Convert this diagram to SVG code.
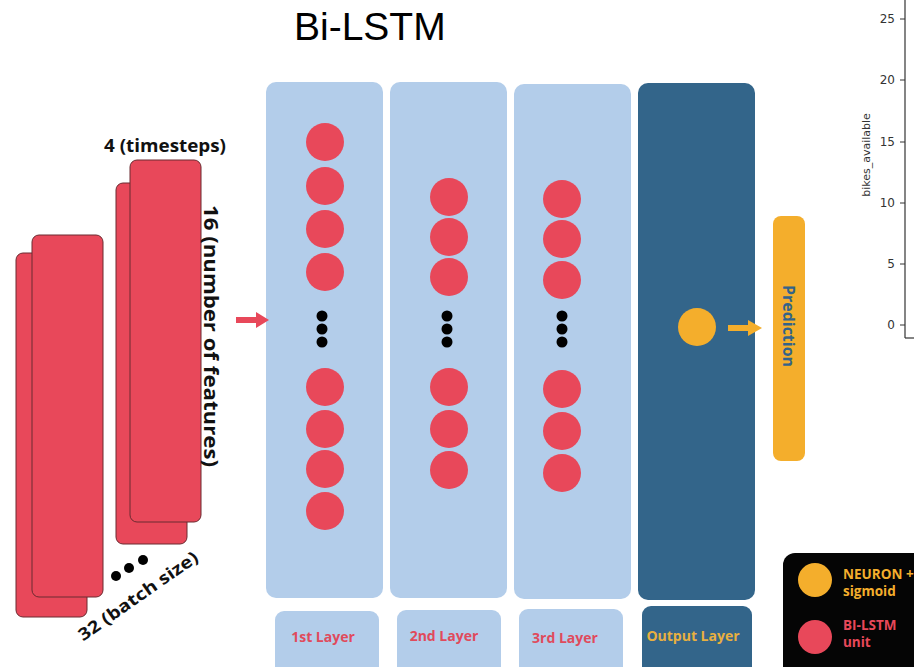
<svg xmlns="http://www.w3.org/2000/svg" width="914" height="667" viewBox="0 0 914 667">
<defs>
<style>
.bg{fill:#ffffff}
.panel{fill:#b3cdea}
.outp{fill:#33658a}
.unit{fill:#e8485a}
.gold{fill:#f4ae2c}
.dot{fill:#000000}
.slab{fill:#e8485a;stroke:#6b2a30;stroke-width:1}
.lbl{font-family:"Open Sans","Noto Sans",sans-serif;font-weight:bold}
.axis{font-family:"DejaVu Sans",sans-serif;font-size:12px;fill:#333333}
</style>
</defs>
<rect class="bg" x="0" y="0" width="914" height="667"/>
<text x="294" y="40" font-family="Liberation Sans, Arial, sans-serif" font-size="39" fill="#000">Bi-LSTM</text>

<g id="chart">
<line x1="905" y1="0" x2="905" y2="338" stroke="#333" stroke-width="1.2"/>
<line x1="905" y1="338" x2="914" y2="338" stroke="#333" stroke-width="1.2"/>
<g stroke="#333" stroke-width="1">
<line x1="900" y1="19" x2="905" y2="19"/><line x1="900" y1="80" x2="905" y2="80"/><line x1="900" y1="142" x2="905" y2="142"/><line x1="900" y1="203" x2="905" y2="203"/><line x1="900" y1="264" x2="905" y2="264"/><line x1="900" y1="325" x2="905" y2="325"/>
</g>
<g class="axis" text-anchor="end">
<text x="895" y="23">25</text><text x="895" y="84">20</text><text x="895" y="146">15</text><text x="895" y="207">10</text><text x="895" y="268">5</text><text x="895" y="329">0</text>
</g>
<text class="axis" style="font-size:11px" text-anchor="middle" transform="translate(870,155) rotate(-90)">bikes_available</text>
</g>

<g id="input">
<rect class="slab" x="16" y="253" width="71" height="364" rx="7"/>
<rect class="slab" x="32" y="235" width="71" height="362" rx="7"/>
<rect class="slab" x="116" y="183" width="71" height="361" rx="7"/>
<rect class="slab" x="130" y="160" width="71" height="362" rx="7"/>
<text class="lbl" x="165" y="152" font-size="17" text-anchor="middle" fill="#111" textLength="122" lengthAdjust="spacingAndGlyphs">4 (timesteps)</text>
<text class="lbl" font-size="19" text-anchor="middle" fill="#111" textLength="262" lengthAdjust="spacingAndGlyphs" transform="translate(204,336) rotate(90)">16 (number of features)</text>
<circle class="dot" cx="116" cy="576" r="5"/><circle class="dot" cx="129" cy="568" r="5"/><circle class="dot" cx="143" cy="560" r="5"/>
<text class="lbl" font-size="17" text-anchor="middle" fill="#111" dy=".35em" textLength="142" lengthAdjust="spacingAndGlyphs" transform="translate(138,596) rotate(-35)">32 (batch size)</text>
</g>

<g id="layer1">
<rect class="panel" x="266" y="82" width="117" height="516" rx="10"/>
<circle class="unit" cx="325" cy="142" r="19"/><circle class="unit" cx="325" cy="186" r="19"/><circle class="unit" cx="325" cy="229" r="19"/><circle class="unit" cx="325" cy="272" r="19"/>
<circle class="dot" cx="322" cy="316" r="5.5"/><circle class="dot" cx="322" cy="329" r="5.5"/><circle class="dot" cx="322" cy="342" r="5.5"/>
<circle class="unit" cx="325" cy="387" r="19"/><circle class="unit" cx="325" cy="429" r="19"/><circle class="unit" cx="325" cy="469" r="19"/><circle class="unit" cx="325" cy="511" r="19"/>
</g>
<g id="layer2">
<rect class="panel" x="390" y="82" width="117" height="516" rx="10"/>
<circle class="unit" cx="449" cy="197" r="19"/><circle class="unit" cx="449" cy="237" r="19"/><circle class="unit" cx="449" cy="277" r="19"/>
<circle class="dot" cx="447" cy="316" r="5.5"/><circle class="dot" cx="447" cy="329" r="5.5"/><circle class="dot" cx="447" cy="342" r="5.5"/>
<circle class="unit" cx="449" cy="387" r="19"/><circle class="unit" cx="449" cy="429" r="19"/><circle class="unit" cx="449" cy="470" r="19"/>
</g>
<g id="layer3">
<rect class="panel" x="514" y="84" width="117" height="515" rx="10"/>
<circle class="unit" cx="562" cy="199" r="19"/><circle class="unit" cx="562" cy="239" r="19"/><circle class="unit" cx="562" cy="280" r="19"/>
<circle class="dot" cx="562" cy="316" r="5.5"/><circle class="dot" cx="562" cy="329" r="5.5"/><circle class="dot" cx="562" cy="342" r="5.5"/>
<circle class="unit" cx="562" cy="389" r="19"/><circle class="unit" cx="562" cy="431" r="19"/><circle class="unit" cx="562" cy="473" r="19"/>
</g>
<g id="output">
<rect class="outp" x="638" y="83" width="117" height="517" rx="10"/>
<circle class="gold" cx="697" cy="327" r="19"/>
</g>
<g id="prediction">
<rect class="gold" x="773" y="216" width="32" height="245" rx="8"/>
<text class="lbl" font-size="16" text-anchor="middle" fill="#33638a" textLength="82" lengthAdjust="spacingAndGlyphs" transform="translate(783,326) rotate(90)">Prediction</text>
</g>

<g id="connectors">
<polygon fill="#e8485a" points="236,317 256,317 256,312 269,320 256,328 256,323 236,323"/>
<polygon fill="#f4ae2c" points="728,325 748,325 748,320 762,328 748,336 748,331 728,331"/>
</g>

<g id="labels">
<rect class="panel" x="275" y="611" width="104" height="70" rx="9"/>
<rect class="panel" x="397" y="610" width="104" height="70" rx="9"/>
<rect class="panel" x="519" y="609" width="104" height="70" rx="9"/>
<rect class="outp" x="642" y="606" width="110" height="75" rx="9"/>
<g class="lbl" font-size="14" text-anchor="middle">
<text x="323" y="642" fill="#e04a5c">1st Layer</text>
<text x="444" y="641" fill="#e04a5c">2nd Layer</text>
<text x="565" y="643" fill="#e04a5c">3rd Layer</text>
<text x="693" y="641" fill="#e8b040">Output Layer</text>
</g>
</g>

<g id="legend">
<rect x="783" y="553" width="150" height="130" rx="12" fill="#050505"/>
<circle class="gold" cx="815" cy="580" r="17"/>
<circle class="unit" cx="815" cy="637" r="17"/>
<g class="lbl" font-size="13.5">
<text x="843" y="579" fill="#f4ae2c">NEURON +</text>
<text x="843" y="596" fill="#f4ae2c">sigmoid</text>
<text x="843" y="630" fill="#e8485a">BI-LSTM</text>
<text x="843" y="647" fill="#e8485a">unit</text>
</g>
</g>
</svg>
